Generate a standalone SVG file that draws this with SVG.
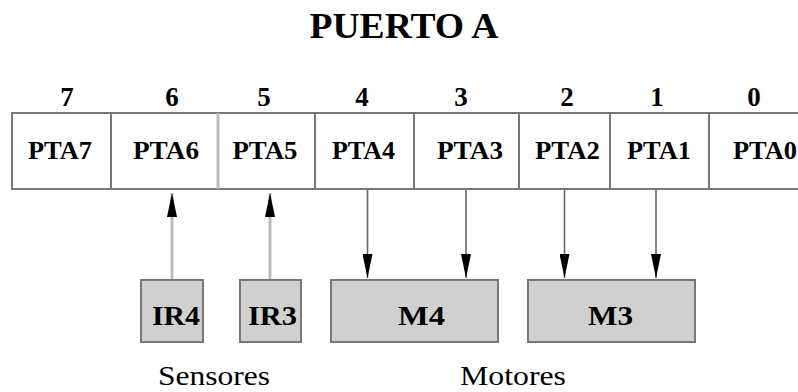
<svg xmlns="http://www.w3.org/2000/svg" width="798" height="392" viewBox="0 0 798 392">
<defs>
<style>
.t{font-family:"Liberation Serif","Times New Roman",serif;font-weight:bold;fill:#000;text-anchor:middle}
.title{font-size:36px}
.dig{font-size:27px}
.lab{font-size:25px}
.box{font-size:28px}
.cap{font-family:"Liberation Serif","Times New Roman",serif;font-size:27px;fill:#000;text-anchor:middle}
.reg{fill:#fff;stroke:#777;stroke-width:2}
.div{stroke:#777;stroke-width:2}
.dev{fill:#d0d0d0;stroke:#777;stroke-width:2}
.up{stroke:#bbb;stroke-width:3;fill:none}
.down{stroke:#666;stroke-width:1.6;fill:none}
</style>
<marker id="ah2" viewBox="0 0 10 10" refX="10" refY="5" markerWidth="24" markerHeight="10" markerUnits="userSpaceOnUse" orient="auto" preserveAspectRatio="none">
<path d="M0,0 L10,5 L0,10 Z" fill="#000"/>
</marker>
</defs>
<text class="t title" x="404" y="38" textLength="189" lengthAdjust="spacingAndGlyphs">PUERTO A</text>
<g id="register">
<rect class="reg" x="12" y="113" width="790" height="76"/>
<line class="div" x1="111" y1="113" x2="111" y2="189"/>
<line x1="218" y1="113" x2="218" y2="189" stroke="#bbb" stroke-width="3"/>
<line class="div" x1="315" y1="113" x2="315" y2="189"/>
<line class="div" x1="414" y1="113" x2="414" y2="189"/>
<line class="div" x1="519" y1="113" x2="519" y2="189"/>
<line class="div" x1="610" y1="113" x2="610" y2="189"/>
<line class="div" x1="709" y1="113" x2="709" y2="189"/>
<text class="t dig" x="67" y="106">7</text>
<text class="t dig" x="172" y="106">6</text>
<text class="t dig" x="264" y="106">5</text>
<text class="t dig" x="362" y="106">4</text>
<text class="t dig" x="461" y="106">3</text>
<text class="t dig" x="567" y="106">2</text>
<text class="t dig" x="657" y="106">1</text>
<text class="t dig" x="754" y="106">0</text>
<text class="t lab" x="60" y="159" textLength="64" lengthAdjust="spacingAndGlyphs">PTA7</text>
<text class="t lab" x="166" y="159" textLength="66" lengthAdjust="spacingAndGlyphs">PTA6</text>
<text class="t lab" x="265" y="159" textLength="65" lengthAdjust="spacingAndGlyphs">PTA5</text>
<text class="t lab" x="363.5" y="159" textLength="63" lengthAdjust="spacingAndGlyphs">PTA4</text>
<text class="t lab" x="470" y="159" textLength="66" lengthAdjust="spacingAndGlyphs">PTA3</text>
<text class="t lab" x="567.5" y="159" textLength="65" lengthAdjust="spacingAndGlyphs">PTA2</text>
<text class="t lab" x="659" y="159" textLength="64" lengthAdjust="spacingAndGlyphs">PTA1</text>
<text class="t lab" x="765" y="159" textLength="64" lengthAdjust="spacingAndGlyphs">PTA0</text>
</g>
<g id="connectors">
<line class="up" x1="172" y1="280" x2="172" y2="193" marker-end="url(#ah2)"/>
<line class="up" x1="270" y1="280" x2="270" y2="193" marker-end="url(#ah2)"/>
<line class="down" x1="367.5" y1="190" x2="367.5" y2="278" marker-end="url(#ah2)"/>
<line class="down" x1="466" y1="190" x2="466" y2="278" marker-end="url(#ah2)"/>
<line class="down" x1="564.5" y1="190" x2="564.5" y2="278" marker-end="url(#ah2)"/>
<line class="down" x1="656" y1="190" x2="656" y2="278" marker-end="url(#ah2)"/>
</g>
<g id="IR4">
<rect class="dev" x="141" y="280" width="62" height="62"/>
<text class="t box" x="176" y="325" textLength="48" lengthAdjust="spacingAndGlyphs">IR4</text>
</g>
<g id="IR3">
<rect class="dev" x="240" y="280" width="61" height="62"/>
<text class="t box" x="272.5" y="325" textLength="49" lengthAdjust="spacingAndGlyphs">IR3</text>
</g>
<g id="M4">
<rect class="dev" x="331" y="280" width="167" height="62"/>
<text class="t box" x="421.5" y="325" textLength="47" lengthAdjust="spacingAndGlyphs">M4</text>
</g>
<g id="M3">
<rect class="dev" x="528" y="280" width="167" height="62"/>
<text class="t box" x="610.5" y="325" textLength="45" lengthAdjust="spacingAndGlyphs">M3</text>
</g>
<text class="cap" x="214" y="385" textLength="112" lengthAdjust="spacingAndGlyphs">Sensores</text>
<text class="cap" x="513" y="385" textLength="106" lengthAdjust="spacingAndGlyphs">Motores</text>
</svg>
